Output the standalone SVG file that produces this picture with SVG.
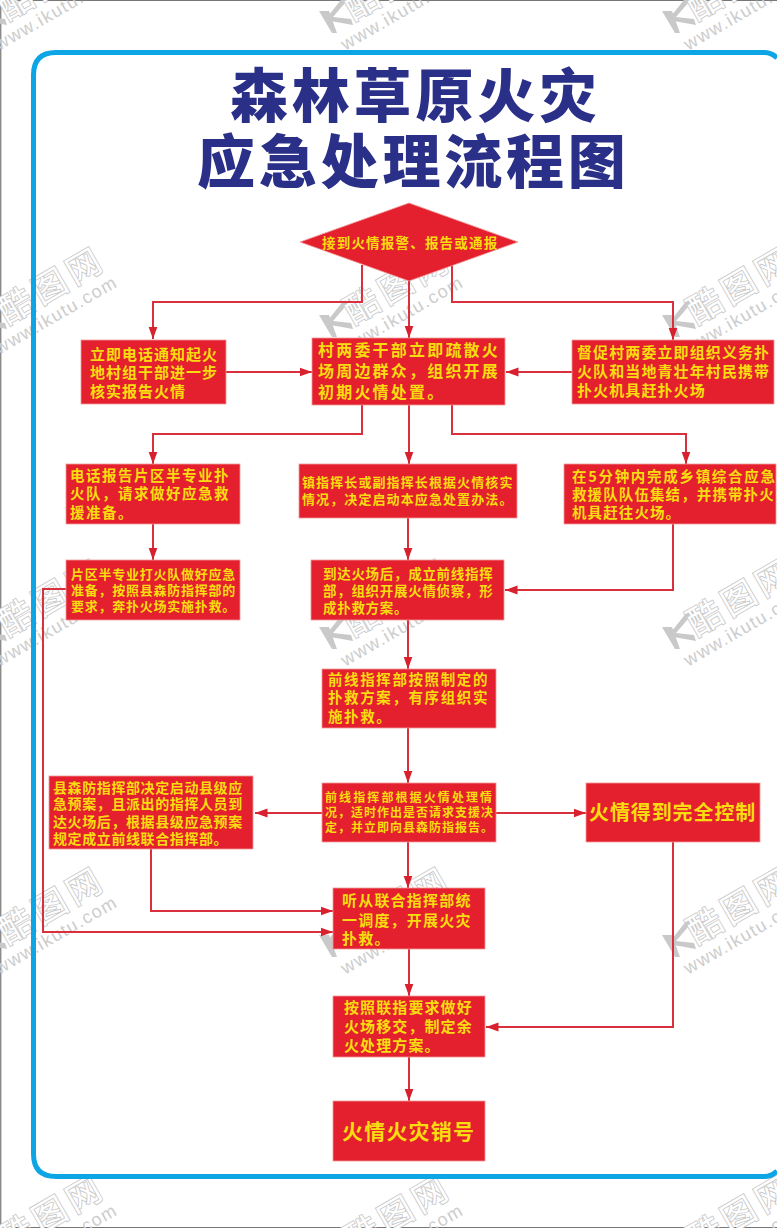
<svg xmlns="http://www.w3.org/2000/svg" width="777" height="1228" viewBox="0 0 777 1228">
<defs>
<marker id="ah" markerUnits="userSpaceOnUse" markerWidth="13" markerHeight="10" refX="12.5" refY="5" orient="auto"><path d="M0,0.5 L12.5,5 L0,9.5 Z" fill="#d8202e"/></marker>
<g id="wm">
<g transform="rotate(30)"><path d="M-13,-7 L-3,-7 L5,15 L0,15 Z" fill="#c9c9c9"/><path d="M12,-22 L19,-22 L1,-1 L19,1 L21,7 L-7,2 Z" fill="#c9c9c9"/></g>
<text x="17" y="13" class="wm1">酷图网</text>
<text x="-5" y="35" class="wm2">www.ikutu.com</text>
</g>
</defs>
<style>
.wm1{font:400 34px "Noto Sans CJK SC","Liberation Sans",sans-serif;letter-spacing:5px;fill:#fff;stroke:#c9c9c9;stroke-width:1.8;paint-order:stroke}
.wm2{font:400 18px "Liberation Sans",sans-serif;letter-spacing:1.4px;fill:#cdcdcd}
.n{fill:#e4202e;stroke:#f09a9a;stroke-width:0.8}
.c{fill:none;stroke:#d8303c;stroke-width:2;marker-end:url(#ah)}
.t{font-family:"Noto Sans CJK SC","Liberation Sans",sans-serif;font-weight:700;fill:#f8dc10}
.title{font-family:"Noto Sans CJK SC","Liberation Sans",sans-serif;font-weight:900;font-size:58px;fill:#2a3088;letter-spacing:3.8px}
</style>
<rect width="777" height="1228" fill="#fff"/>
<path d="M0.75,1228V0.5H777M0,1227.5H777" fill="none" stroke="#777" stroke-width="1.2"/>
<g id="watermarks">
<use href="#wm" transform="translate(-14,18) rotate(-30)"/>
<use href="#wm" transform="translate(332,18) rotate(-30)"/>
<use href="#wm" transform="translate(675,18) rotate(-30)"/>
<use href="#wm" transform="translate(-14,322) rotate(-30)"/>
<use href="#wm" transform="translate(332,322) rotate(-30)"/>
<use href="#wm" transform="translate(675,322) rotate(-30)"/>
<use href="#wm" transform="translate(-14,634) rotate(-30)"/>
<use href="#wm" transform="translate(332,634) rotate(-30)"/>
<use href="#wm" transform="translate(675,634) rotate(-30)"/>
<use href="#wm" transform="translate(-14,942) rotate(-30)"/>
<use href="#wm" transform="translate(332,942) rotate(-30)"/>
<use href="#wm" transform="translate(675,942) rotate(-30)"/>
<use href="#wm" transform="translate(-14,1250) rotate(-30)"/>
<use href="#wm" transform="translate(332,1250) rotate(-30)"/>
<use href="#wm" transform="translate(675,1250) rotate(-30)"/>
</g>
<path id="frame" d="M777,58 Q772,52.500 764,52.500 H56 Q33.500,52.500 33.500,75 V1154 Q33.500,1176.500 56,1176.500 H764 Q772,1176.500 777,1171" fill="none" stroke="#0ea5e4" stroke-width="5"/>
<g id="title">
<text class="title" x="230" y="117">森林草原火灾</text>
<text class="title" x="197" y="183">应急处理流程图</text>
</g>
<g id="connectors">
<path class="c" d="M362,265 V302 H153 V339"/>
<path class="c" d="M409,280 V338"/>
<path class="c" d="M452,265 V302 H673 V340"/>
<path class="c" d="M226,372 H312"/>
<path class="c" d="M572,372 H506"/>
<path class="c" d="M362,405 V434 H153 V464"/>
<path class="c" d="M409,405 V464"/>
<path class="c" d="M452,405 V434 H686 V464"/>
<path class="c" d="M153,524 V560"/>
<path class="c" d="M408,518 V560"/>
<path class="c" d="M673,524 V590 H505"/>
<path class="c" d="M408,620 V669"/>
<path class="c" d="M408,728 V783"/>
<path class="c" d="M322,813 H255"/>
<path class="c" d="M496,813 H586"/>
<path class="c" d="M408,842 V888"/>
<path class="c" d="M151,849 V911 H333"/>
<path class="c" d="M67,589 H43 V932 H333"/>
<path class="c" d="M409,949 V996"/>
<path class="c" d="M673,842 V1027 H486"/>
<path class="c" d="M409,1057 V1101"/>
</g>
<g id="n-start"><polygon class="n" points="300,242 409,203 518,242 409,281"/><text class="t" x="322" y="248" font-size="13.500" letter-spacing="1.2">接到火情报警、报告或通报</text></g>
<g id="n-notify"><rect class="n" x="81" y="340" width="145" height="64"/><text class="t" font-size="15" letter-spacing="1"><tspan x="90" y="360">立即电话通知起火</tspan><tspan x="90" y="378">地村组干部进一步</tspan><tspan x="90" y="397">核实报告火情</tspan></text></g>
<g id="n-village"><rect class="n" x="312" y="338" width="193" height="67"/><text class="t" font-size="16" letter-spacing="2.2"><tspan x="318" y="356">村两委干部立即疏散火</tspan><tspan x="318" y="377">场周边群众，组织开展</tspan><tspan x="318" y="398">初期火情处置。</tspan></text></g>
<g id="n-supervise"><rect class="n" x="572" y="340" width="202" height="64"/><text class="t" font-size="15" letter-spacing="1.1"><tspan x="577" y="358">督促村两委立即组织义务扑</tspan><tspan x="577" y="377">火队和当地青壮年村民携带</tspan><tspan x="577" y="396">扑火机具赶扑火场</tspan></text></g>
<g id="n-phone"><rect class="n" x="66" y="464" width="174" height="60"/><text class="t" font-size="14.500" letter-spacing="1.500"><tspan x="70" y="481">电话报告片区半专业扑</tspan><tspan x="70" y="499">火队，请求做好应急救</tspan><tspan x="70" y="518">援准备。</tspan></text></g>
<g id="n-town"><rect class="n" x="299" y="464" width="218" height="54"/><text class="t" font-size="13" letter-spacing="1.1"><tspan x="302" y="487">镇指挥长或副指挥长根据火情核实</tspan><tspan x="302" y="504">情况，决定启动本应急处置办法。</tspan></text></g>
<g id="n-five"><rect class="n" x="564" y="464" width="212" height="60"/><text class="t" font-size="14.500" letter-spacing="1.1"><tspan x="572" y="482" letter-spacing="1.700">在5分钟内完成乡镇综合应急</tspan><tspan x="572" y="500">救援队队伍集结，并携带扑火</tspan><tspan x="572" y="518">机具赶往火场。</tspan></text></g>
<g id="n-semi"><rect class="n" x="66" y="560" width="174" height="60"/><text class="t" font-size="13" letter-spacing="0.75"><tspan x="71" y="579">片区半专业打火队做好应急</tspan><tspan x="71" y="595">准备，按照县森防指挥部的</tspan><tspan x="71" y="611">要求，奔扑火场实施扑救。</tspan></text></g>
<g id="n-arrive"><rect class="n" x="311" y="560" width="193" height="60"/><text class="t" font-size="13.500" letter-spacing="0.7"><tspan x="323" y="579">到达火场后，成立前线指挥</tspan><tspan x="323" y="596">部，组织开展火情侦察，形</tspan><tspan x="323" y="613">成扑救方案。</tspan></text></g>
<g id="n-front"><rect class="n" x="322" y="669" width="174" height="59"/><text class="t" font-size="14.500" letter-spacing="1.6"><tspan x="328" y="685">前线指挥部按照制定的</tspan><tspan x="328" y="703">扑救方案，有序组织实</tspan><tspan x="328" y="722">施扑救。</tspan></text></g>
<g id="n-county"><rect class="n" x="49" y="776" width="204" height="73"/><text class="t" font-size="14" letter-spacing="0.6"><tspan x="53" y="793">县森防指挥部决定启动县级应</tspan><tspan x="53" y="809">急预案，且派出的指挥人员到</tspan><tspan x="53" y="827">达火场后，根据县级应急预案</tspan><tspan x="53" y="844">规定成立前线联合指挥部。</tspan></text></g>
<g id="n-report"><rect class="n" x="322" y="783" width="174" height="59"/><text class="t" font-size="12"><tspan x="325" y="802" letter-spacing="2.100">前线指挥部根据火情处理情</tspan><tspan x="325" y="817" letter-spacing="1">况，适时作出是否请求支援决</tspan><tspan x="325" y="832" letter-spacing="1">定，并立即向县森防指报告。</tspan></text></g>
<g id="n-control"><rect class="n" x="586" y="783" width="174" height="59"/><text class="t" font-size="20" letter-spacing="0.9" x="589" y="820">火情得到完全控制</text></g>
<g id="n-joint"><rect class="n" x="333" y="888" width="152" height="61"/><text class="t" font-size="15" letter-spacing="1.2"><tspan x="342" y="906">听从联合指挥部统</tspan><tspan x="342" y="926">一调度，开展火灾</tspan><tspan x="342" y="944">扑救。</tspan></text></g>
<g id="n-handover"><rect class="n" x="333" y="996" width="152" height="61"/><text class="t" font-size="15" letter-spacing="1.1"><tspan x="344" y="1013">按照联指要求做好</tspan><tspan x="344" y="1032">火场移交，制定余</tspan><tspan x="344" y="1051">火处理方案。</tspan></text></g>
<g id="n-end"><rect class="n" x="333" y="1101" width="152" height="60"/><text class="t" font-size="21" letter-spacing="1.2" x="342" y="1139">火情火灾销号</text></g>
</svg>
